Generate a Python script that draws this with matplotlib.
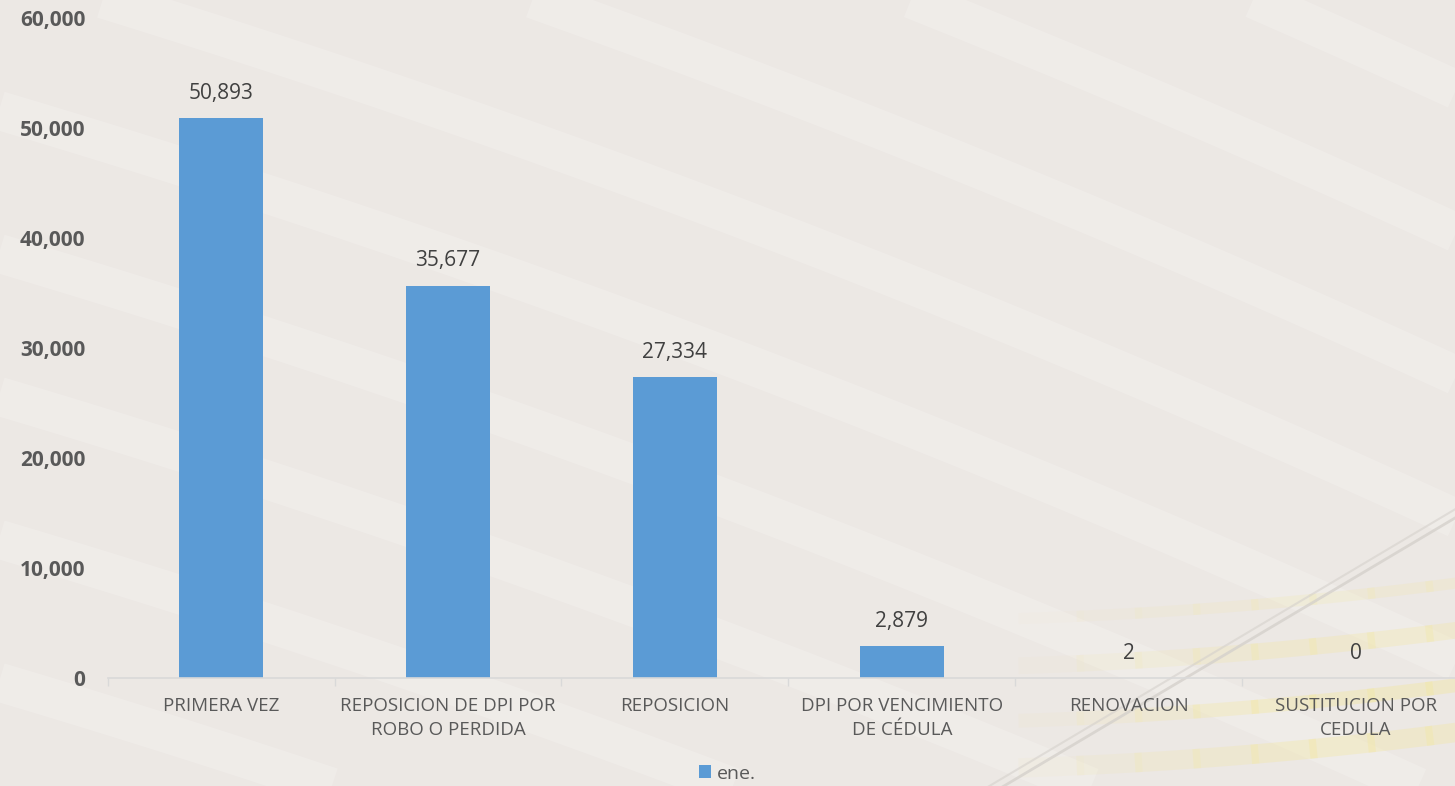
import numpy as np
import matplotlib.pyplot as plt

categories = ['PRIMERA VEZ', 'REPOSICION DE DPI POR\nROBO O PERDIDA', 'REPOSICION',
              'DPI POR VENCIMIENTO\nDE CÉDULA', 'RENOVACION', 'SUSTITUCION POR\nCEDULA']
values = [50893, 35677, 27334, 2879, 2, 0]
series_name = 'ene.'
yticks = [0, 10000, 20000, 30000, 40000, 50000, 60000]

plt.rcParams['font.family'] = ['Open Sans', 'DejaVu Sans']

fig = plt.figure(figsize=(14.55, 7.86), dpi=100)
fig.patch.set_facecolor('#ECE8E4')

# decorative background swooshes
bg = fig.add_axes([0, 0, 1, 1], zorder=0)
bg.set_xlim(0, 1)
bg.set_ylim(0, 1)
bg.axis('off')
t = np.linspace(-0.2, 1.2, 200)
for off in np.linspace(-0.6, 1.4, 12):
    bg.plot(t, off + 0.55 * (1 - t) - 0.15 * t ** 2, color='white', lw=28, alpha=0.18,
            solid_capstyle='butt')
# yellow bands fading in towards the right
for off, a, w in [(0.02, 0.35, 14), (0.08, 0.4, 10), (0.15, 0.3, 12), (0.21, 0.2, 8)]:
    for i in range(8):
        x0 = 0.70 + i * 0.04
        seg = np.linspace(x0, x0 + 0.045, 10)
        bg.plot(seg, off + 0.3 * (seg - 0.6) ** 2, color='#F3E7A0', lw=w,
                alpha=a * min(1, (i + 1) / 5), solid_capstyle='butt')
tl = np.linspace(0.66, 1.05, 50)
bg.plot(tl, (tl - 0.69) * 1.1, color='#D5D1CC', lw=2, alpha=0.8)
bg.plot(tl, (tl - 0.68) * 1.1, color='#D5D1CC', lw=1.5, alpha=0.6)

ax = fig.add_axes([0.0739, 0.1374, 0.936, 0.8397], zorder=1)
ax.patch.set_alpha(0)
x = np.arange(len(categories))
ax.bar(x, values, width=0.37, color='#5B9BD5', label=series_name, zorder=2)

ax.set_xlim(-0.5, len(categories) - 0.5)
ax.set_ylim(0, 60000)
ax.set_yticks(yticks)
ax.set_yticklabels([f'{v:,}' for v in yticks], fontsize=15, fontweight='bold', color='#595959')
ax.tick_params(axis='y', length=0, pad=16)

ax.set_xticks(x)
ax.set_xticklabels(categories, fontsize=13.5, color='#595959', linespacing=1.4)
ax.set_xticks(np.arange(len(categories) + 1) - 0.5, minor=True)
ax.tick_params(axis='x', which='major', length=0, pad=14)
ax.tick_params(axis='x', which='minor', length=6, color='#D9D9D9', width=1)

for s in ['top', 'right', 'left']:
    ax.spines[s].set_visible(False)
ax.spines['bottom'].set_color('#D9D9D9')
ax.spines['bottom'].set_linewidth(1.2)

for xi, v in zip(x, values):
    ax.text(xi, v + 1300, f'{v:,}', ha='center', va='bottom', fontsize=15, color='#404040')

fig.legend(loc='lower center', bbox_to_anchor=(0.5, -0.018), frameon=False, fontsize=14,
           handlelength=0.65, handleheight=0.65, handletextpad=0.3, labelcolor='#595959')

fig.savefig('out.png', dpi=100, facecolor=fig.get_facecolor())
